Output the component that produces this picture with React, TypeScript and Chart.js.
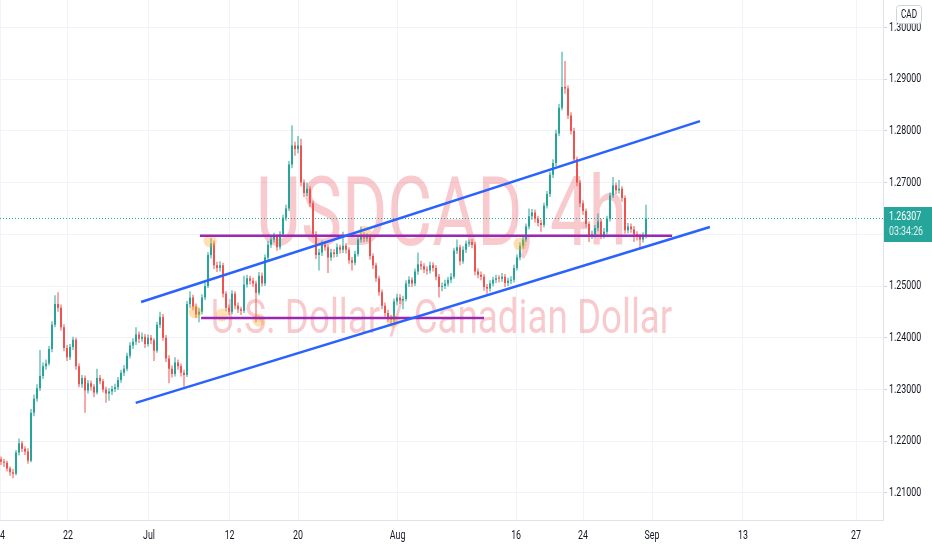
import { useEffect, useRef } from 'react';
import { Chart, registerables } from 'chart.js';

Chart.register(...registerables);

// ---- data (bar index on x, price on y) ----
const FIRST_OPEN = 1.2165;
const closes = [
  1.2160, 1.2158, 1.2147, 1.2140, 1.2137, 1.2178, 1.2196, 1.2185, 1.2180, 1.2162,
  1.2255, 1.2282, 1.2302, 1.2326, 1.2345, 1.2350, 1.2378, 1.2425, 1.2465, 1.2458,
  1.2420, 1.2380, 1.2362, 1.2382, 1.2396, 1.2345, 1.2310, 1.2322, 1.2298, 1.2312,
  1.2305, 1.2294, 1.2322, 1.2316, 1.2300, 1.2292, 1.2296, 1.2301, 1.2304, 1.2318,
  1.2332, 1.2340, 1.2365, 1.2385, 1.2392, 1.2406, 1.2398, 1.2402, 1.2388, 1.2400,
  1.2395, 1.2375, 1.2425, 1.2440, 1.2400, 1.2360, 1.2340, 1.2330, 1.2352, 1.2345,
  1.2332, 1.2328, 1.2465, 1.2478, 1.2460, 1.2445, 1.2450, 1.2478, 1.2500, 1.2560,
  1.2582, 1.2540, 1.2535, 1.2540, 1.2485, 1.2458, 1.2450, 1.2485, 1.2462, 1.2455,
  1.2452, 1.2503, 1.2515, 1.2510, 1.2505, 1.2487, 1.2520, 1.2505, 1.2555, 1.2580,
  1.2590, 1.2595, 1.2575, 1.2600, 1.2632, 1.2650, 1.2735, 1.2772, 1.2765, 1.2772,
  1.2700, 1.2680, 1.2688, 1.2660, 1.2600, 1.2560, 1.2565, 1.2580, 1.2575, 1.2555,
  1.2565, 1.2562, 1.2575, 1.2570, 1.2578, 1.2570, 1.2550, 1.2545, 1.2562, 1.2590,
  1.2598, 1.2592, 1.2595, 1.2558, 1.2540, 1.2515, 1.2488, 1.2462, 1.2448, 1.2438,
  1.2435, 1.2470, 1.2478, 1.2472, 1.2475, 1.2505, 1.2512, 1.2505, 1.2528, 1.2542,
  1.2538, 1.2532, 1.2530, 1.2540, 1.2535, 1.2518, 1.2498, 1.2500, 1.2505, 1.2512,
  1.2518, 1.2568, 1.2575, 1.2548, 1.2570, 1.2582, 1.2585, 1.2580, 1.2528, 1.2522,
  1.2518, 1.2498, 1.2495, 1.2505, 1.2512, 1.2515, 1.2514, 1.2518, 1.2506, 1.2510,
  1.2512, 1.2535, 1.2555, 1.2578, 1.2590, 1.2615, 1.2635, 1.2642, 1.2630, 1.2622,
  1.2618, 1.2655, 1.2678, 1.2715, 1.2738, 1.2795, 1.2845, 1.2885, 1.2882, 1.2830,
  1.2800, 1.2745, 1.2700, 1.2660, 1.2645, 1.2620, 1.2598, 1.2600, 1.2612, 1.2625,
  1.2598, 1.2605, 1.2630, 1.2675, 1.2695, 1.2685, 1.2688, 1.2670, 1.2608, 1.2615,
  1.2610, 1.2600, 1.2595, 1.2590, 1.2598, 1.26307,
];
const highs = [
  1.2170, 1.2166, 1.2162, 1.2151, 1.2146, 1.2183, 1.2205, 1.2200, 1.2190, 1.2186,
  1.2262, 1.2290, 1.2310, 1.2376, 1.2352, 1.2358, 1.2384, 1.2432, 1.2482, 1.2488,
  1.2464, 1.2426, 1.2386, 1.2388, 1.2402, 1.2400, 1.2350, 1.2328, 1.2327, 1.2318,
  1.2317, 1.2310, 1.2340, 1.2328, 1.2320, 1.2305, 1.2302, 1.2307, 1.2311, 1.2324,
  1.2338, 1.2347, 1.2371, 1.2391, 1.2399, 1.2420, 1.2412, 1.2410, 1.2407, 1.2406,
  1.2405, 1.2399, 1.2431, 1.2450, 1.2446, 1.2405, 1.2366, 1.2346, 1.2362, 1.2358,
  1.2350, 1.2338, 1.2471, 1.2490, 1.2483, 1.2466, 1.2457, 1.2484, 1.2507, 1.2566,
  1.2593, 1.2588, 1.2547, 1.2548, 1.2545, 1.2490, 1.2464, 1.2492, 1.2490, 1.2468,
  1.2460, 1.2520, 1.2522, 1.2520, 1.2516, 1.2510, 1.2527, 1.2526, 1.2561, 1.2587,
  1.2597, 1.2603, 1.2600, 1.2606, 1.2638, 1.2657, 1.2742, 1.2811, 1.2779, 1.2790,
  1.2785, 1.2706, 1.2700, 1.2693, 1.2665, 1.2606, 1.2572, 1.2588, 1.2586, 1.2580,
  1.2572, 1.2571, 1.2582, 1.2580, 1.2605, 1.2583, 1.2575, 1.2556, 1.2568, 1.2597,
  1.2615, 1.2604, 1.2602, 1.2600, 1.2563, 1.2545, 1.2520, 1.2493, 1.2468, 1.2454,
  1.2444, 1.2476, 1.2485, 1.2484, 1.2481, 1.2511, 1.2519, 1.2517, 1.2534, 1.2565,
  1.2549, 1.2544, 1.2538, 1.2547, 1.2546, 1.2540, 1.2523, 1.2507, 1.2512, 1.2518,
  1.2525, 1.2574, 1.2590, 1.2580, 1.2577, 1.2588, 1.2590, 1.2591, 1.2585, 1.2534,
  1.2528, 1.2523, 1.2504, 1.2511, 1.2518, 1.2522, 1.2521, 1.2525, 1.2523, 1.2516,
  1.2519, 1.2541, 1.2561, 1.2584, 1.2597, 1.2621, 1.2650, 1.2649, 1.2648, 1.2636,
  1.2628, 1.2661, 1.2684, 1.2721, 1.2745, 1.2802, 1.2852, 1.2953, 1.2935, 1.2888,
  1.2836, 1.2806, 1.2750, 1.2705, 1.2666, 1.2650, 1.2625, 1.2607, 1.2618, 1.2640,
  1.2630, 1.2612, 1.2636, 1.2681, 1.2711, 1.2700, 1.2705, 1.2693, 1.2675, 1.2622,
  1.2621, 1.2616, 1.2606, 1.2601, 1.2604, 1.2657,
];
const lows = [
  1.2154, 1.2150, 1.2141, 1.2133, 1.2128, 1.2134, 1.2172, 1.2179, 1.2173, 1.2156,
  1.2159, 1.2248, 1.2276, 1.2297, 1.2320, 1.2338, 1.2346, 1.2372, 1.2420, 1.2450,
  1.2414, 1.2374, 1.2355, 1.2357, 1.2376, 1.2338, 1.2304, 1.2303, 1.2255, 1.2292,
  1.2298, 1.2285, 1.2290, 1.2310, 1.2294, 1.2274, 1.2278, 1.2289, 1.2295, 1.2299,
  1.2313, 1.2326, 1.2335, 1.2360, 1.2378, 1.2386, 1.2390, 1.2392, 1.2380, 1.2383,
  1.2388, 1.2355, 1.2371, 1.2419, 1.2394, 1.2353, 1.2312, 1.2323, 1.2325, 1.2338,
  1.2325, 1.2305, 1.2324, 1.2458, 1.2453, 1.2438, 1.2430, 1.2445, 1.2473, 1.2496,
  1.2553, 1.2533, 1.2527, 1.2528, 1.2478, 1.2451, 1.2444, 1.2446, 1.2455, 1.2448,
  1.2444, 1.2448, 1.2497, 1.2503, 1.2498, 1.2430, 1.2482, 1.2499, 1.2500, 1.2550,
  1.2574, 1.2584, 1.2568, 1.2570, 1.2595, 1.2626, 1.2645, 1.2728, 1.2752, 1.2757,
  1.2693, 1.2672, 1.2674, 1.2653, 1.2594, 1.2552, 1.2530, 1.2558, 1.2568, 1.2525,
  1.2549, 1.2555, 1.2556, 1.2563, 1.2564, 1.2563, 1.2543, 1.2530, 1.2540, 1.2557,
  1.2584, 1.2585, 1.2586, 1.2551, 1.2533, 1.2508, 1.2481, 1.2455, 1.2441, 1.2431,
  1.2425, 1.2430, 1.2463, 1.2465, 1.2455, 1.2470, 1.2498, 1.2498, 1.2500, 1.2522,
  1.2531, 1.2525, 1.2522, 1.2524, 1.2528, 1.2511, 1.2478, 1.2490, 1.2494, 1.2499,
  1.2506, 1.2514, 1.2562, 1.2540, 1.2543, 1.2564, 1.2576, 1.2573, 1.2521, 1.2515,
  1.2511, 1.2491, 1.2485, 1.2489, 1.2499, 1.2506, 1.2507, 1.2508, 1.2498, 1.2500,
  1.2504, 1.2507, 1.2530, 1.2550, 1.2572, 1.2585, 1.2610, 1.2628, 1.2623, 1.2615,
  1.2605, 1.2613, 1.2650, 1.2672, 1.2709, 1.2732, 1.2790, 1.2840, 1.2872, 1.2823,
  1.2793, 1.2738, 1.2693, 1.2653, 1.2638, 1.2613, 1.2585, 1.2591, 1.2594, 1.2606,
  1.2591, 1.2592, 1.2600, 1.2625, 1.2670, 1.2678, 1.2679, 1.2663, 1.2601, 1.2602,
  1.2603, 1.2585, 1.2588, 1.2573, 1.2584, 1.2592,
];

const priceTicks = [1.21, 1.22, 1.23, 1.24, 1.25, 1.26, 1.27, 1.28, 1.29, 1.30];
const dateTickLabels = ['14', '22', 'Jul', '12', '20', 'Aug', '16', '24', 'Sep', '13', '27'];
const dateTickBars = [-0.3, 22.33, 49.33, 76.2, 99, 132.2, 171.7, 194, 217, 247.3, 285];

// trend drawings [barIndex, price]
const upperChannel = [[46.7, 1.2469], [233, 1.2819]];
const lowerChannel = [[44.9, 1.2274], [236.3, 1.2614]];
const resistanceLine = [[66.3, 1.2597], [223.7, 1.2597]];
const supportLine = [[66.7, 1.2438], [161, 1.2438]];
const swingMarks = [
  [64.7, 1.2450], [69.7, 1.2587], [73.7, 1.2444], [86, 1.2434],
  [121.3, 1.2604], [130.7, 1.2432], [173, 1.2581],
];

const LAST_PRICE = 1.26307;
const COUNTDOWN = '03:34:26';
const SYMBOL_TITLE = 'USDCAD, 4h';
const SYMBOL_DESC = 'U.S. Dollar / Canadian Dollar';
const CURRENCY = 'CAD';

const X_MIN = -1 / 3;
const X_MAX = 294;
const Y_MIN = 1.20474;
const Y_MAX = 1.30532;

const UP = '#26a69a';
const DOWN = '#ef5350';
const FONT = "Roboto, 'Liberation Sans', sans-serif";
const SQUEEZE = 0.68;

const opens = [FIRST_OPEN, ...closes.slice(0, -1)];

// draws a scale's own tick labels horizontally condensed (the reference font is narrow)
function condenseLabels(scale: any) {
  if (scale.__condensed) return;
  scale.__condensed = true;
  scale.drawLabels = function (area: any) {
    if (!this.options.ticks.display) return;
    const ctx = this.ctx;
    const items = this.getLabelItems(area);
    for (const item of items) {
      const o = item.options;
      ctx.save();
      ctx.translate(o.translation[0], o.translation[1]);
      ctx.scale(SQUEEZE, 1);
      ctx.font = item.font.string;
      ctx.fillStyle = o.color;
      ctx.textAlign = o.textAlign;
      ctx.textBaseline = o.textBaseline;
      ctx.fillText(String(item.label), 0, item.textOffset);
      ctx.restore();
    }
  };
}

function squeezedText(ctx: any, text: string, x: number, y: number, k: number) {
  ctx.save();
  ctx.translate(x, y);
  ctx.scale(k, 1);
  ctx.fillText(text, 0, 0);
  ctx.restore();
}

const overlayPlugin = {
  id: 'tvOverlay',
  beforeDatasetsDraw(chart: any) {
    const { ctx, chartArea: a, scales } = chart;
    ctx.save();
    ctx.beginPath();
    ctx.rect(a.left, a.top, a.right - a.left, a.bottom - a.top);
    ctx.clip();
    const cx = (a.left + a.right) / 2;
    ctx.fillStyle = 'rgba(232, 80, 92, 0.3)';
    ctx.textAlign = 'center';
    ctx.textBaseline = 'alphabetic';
    ctx.font = '96px Roboto, sans-serif';
    squeezedText(ctx, SYMBOL_TITLE, cx, 245, 0.72);
    ctx.font = '49px Roboto, sans-serif';
    squeezedText(ctx, SYMBOL_DESC, cx, 333, 0.75);
    // last price dotted line
    const y = Math.round(scales.y.getPixelForValue(LAST_PRICE)) + 0.5;
    ctx.strokeStyle = UP;
    ctx.lineWidth = 1;
    ctx.setLineDash([1, 2]);
    ctx.beginPath();
    ctx.moveTo(a.left, y);
    ctx.lineTo(a.right, y);
    ctx.stroke();
    ctx.restore();
  },
  afterDraw(chart: any) {
    const { ctx, chartArea: a, scales, width } = chart;
    const y = Math.round(scales.y.getPixelForValue(LAST_PRICE));
    ctx.save();
    ctx.fillStyle = UP;
    ctx.fillRect(a.right + 1, y - 11, width - a.right - 1, 35);
    ctx.fillStyle = '#ffffff';
    ctx.textAlign = 'left';
    ctx.textBaseline = 'middle';
    ctx.font = `13px ${FONT}`;
    squeezedText(ctx, LAST_PRICE.toFixed(5), a.right + 6, y - 1, SQUEEZE);
    ctx.fillStyle = 'rgba(255,255,255,0.85)';
    squeezedText(ctx, COUNTDOWN, a.right + 6, y + 14, SQUEEZE);
    // currency badge
    const bx = 896.5, by = 5.5, bw = 25, bh = 18;
    ctx.beginPath();
    ctx.roundRect(bx, by, bw, bh, 3);
    ctx.fillStyle = '#ffffff';
    ctx.fill();
    ctx.strokeStyle = '#d1d4dc';
    ctx.lineWidth = 1;
    ctx.stroke();
    ctx.fillStyle = '#131722';
    ctx.textAlign = 'center';
    ctx.font = `12px ${FONT}`;
    squeezedText(ctx, CURRENCY, bx + bw / 2, by + bh / 2 + 0.5, SQUEEZE);
    ctx.restore();
  },
};

export default function App() {
  const ref = useRef<HTMLCanvasElement | null>(null);

  useEffect(() => {
    if (!ref.current) return;
    const colors = closes.map((c, i) => (c >= opens[i] ? UP : DOWN));
    const pts = (arr: number[][]) => arr.map(([x, y]) => ({ x, y }));
    const lineDs = (data: number[][], color: string) => ({
      type: 'line' as const,
      data: pts(data),
      borderColor: color,
      borderWidth: 2.5,
      pointRadius: 0,
      fill: false,
      order: 0,
    });
    const chart = new Chart(ref.current, {
      type: 'bar',
      data: {
        datasets: [
          lineDs(upperChannel, '#2962ff'),
          lineDs(lowerChannel, '#2962ff'),
          lineDs(resistanceLine, '#9c27b0'),
          lineDs(supportLine, '#9c27b0'),
          {
            type: 'scatter',
            data: pts(swingMarks),
            pointRadius: 6.5,
            pointBackgroundColor: 'rgba(255, 167, 38, 0.35)',
            pointBorderWidth: 0,
            order: 1,
          } as any,
          {
            type: 'bar',
            data: closes.map((c, i) => ({ x: i, y: [opens[i], c] })),
            backgroundColor: colors,
            barThickness: 2,
            grouped: false,
            minBarLength: 1,
            inflateAmount: 0,
            borderWidth: 0,
            order: 2,
          } as any,
          {
            type: 'bar',
            data: closes.map((_, i) => ({ x: i, y: [lows[i], highs[i]] })),
            backgroundColor: colors,
            barThickness: 1,
            grouped: false,
            inflateAmount: 0,
            borderWidth: 0,
            order: 3,
          } as any,
        ],
      },
      options: {
        responsive: false,
        animation: false,
        events: [],
        devicePixelRatio: 1,
        layout: { padding: 0, autoPadding: false },
        plugins: { legend: { display: false }, tooltip: { enabled: false } },
        scales: {
          x: {
            type: 'linear',
            position: 'bottom',
            min: X_MIN,
            max: X_MAX,
            offset: false,
            afterBuildTicks: (s: any) => {
              s.ticks = dateTickBars.map((v) => ({ value: v }));
            },
            afterFit: (s: any) => {
              s.height = 30;
              s.paddingLeft = 0;
              s.paddingRight = 0;
              condenseLabels(s);
            },
            ticks: {
              autoSkip: false,
              maxRotation: 0,
              padding: 8,
              color: '#131722',
              font: { family: FONT, size: 13 },
              callback: (_v: any, i: number) => dateTickLabels[i],
            },
            grid: { color: '#f0f3fa', drawTicks: false, offset: false },
            border: { color: '#e0e3eb' },
          } as any,
          y: {
            type: 'linear',
            position: 'right',
            min: Y_MIN,
            max: Y_MAX,
            beginAtZero: false,
            afterBuildTicks: (s: any) => {
              s.ticks = priceTicks.map((v) => ({ value: v }));
            },
            afterFit: (s: any) => {
              s.width = 49;
              s.paddingTop = 0;
              s.paddingBottom = 0;
              condenseLabels(s);
            },
            ticks: {
              padding: 2,
              color: '#131722',
              font: { family: FONT, size: 13 },
              callback: (v: any) => Number(v).toFixed(5),
            },
            grid: { color: '#f0f3fa', tickLength: 4, tickColor: '#d1d4dc' },
            border: { color: '#e0e3eb' },
          } as any,
        },
      },
      plugins: [overlayPlugin],
    });
    return () => chart.destroy();
  }, []);

  return (
    <div style={{ position: 'fixed', left: 0, top: 0, width: 932, height: 550, background: '#ffffff' }}>
      <canvas ref={ref} width={932} height={550} style={{ display: 'block' }} />
    </div>
  );
}
